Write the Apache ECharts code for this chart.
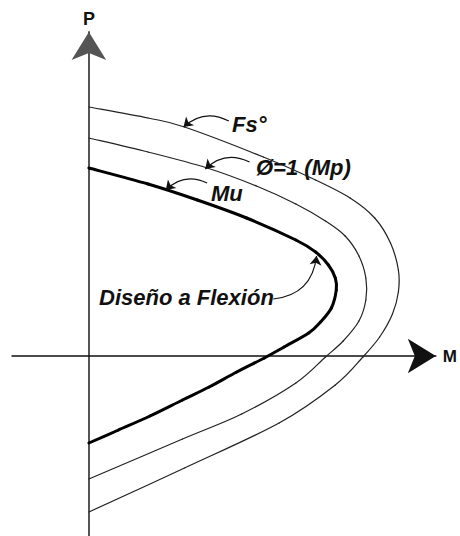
<!DOCTYPE html>
<html>
<head>
<meta charset="utf-8">
<script src="https://cdn.jsdelivr.net/npm/echarts@6.0.0/dist/echarts.min.js"></script>
<style>
  html, body { margin: 0; padding: 0; background: #fff; }
  #chart { width: 460px; height: 536px; }
</style>
</head>
<body>
<div id="chart"></div>
<script>
// curvas del diagrama de interaccion, puntos [M, P]
var fsCurve = [
    [0, 249], [60, 238], [97, 229], [177, 199], [230, 176], [265, 158],
    [290, 138], [306, 113], [314, 86], [314, 64], [308, 42], [295, 19],
    [278, -1], [250, -29], [193, -67], [97, -112], [0, -156]
];
var mpCurve = [
    [0, 218], [60, 204], [120, 188], [170, 170], [210, 152], [240, 135],
    [260, 120], [274, 100], [281, 78], [281, 56], [274, 35], [258, 15],
    [240, -1], [210, -27], [155, -58], [95, -83], [0, -123]
];
var muCurve = [
    [0, 188], [60, 172], [110, 156], [160, 138], [210, 116], [230, 104],
    [243, 91], [250, 78], [251, 66], [246, 48], [235, 34], [223, 23],
    [198, 9], [178, -2], [150, -16], [122, -31], [95, -44], [62, -60],
    [30, -74], [0, -87]
];

// flechas de las etiquetas (inicio -> punta)
var leaders = [
    [[142, 235], [96, 229]],
    [[163, 194], [118, 187]],
    [[120, 173], [78, 166]],
    [[187, 57], [231, 100]]
];
var leaderCurve = [-0.35, -0.35, -0.35, -0.4];

var labelFont = 'italic bold 22px "Liberation Sans", Arial, sans-serif';

// curva suave (catmull-rom) dibujada tramo a tramo con api.coord
function curveSeries(name, pts, color, width) {
    var n = pts.length;
    return {
        name: name,
        type: 'custom',
        data: pts,
        encode: { x: 0, y: 1 },
        renderItem: function (params, api) {
            var i = params.dataIndex;
            if (i === 0) return { type: 'group', children: [] };
            var p0 = api.coord(pts[Math.max(i - 2, 0)]);
            var p1 = api.coord(pts[i - 1]);
            var p2 = api.coord(pts[i]);
            var p3 = api.coord(pts[Math.min(i + 1, n - 1)]);
            return {
                type: 'bezierCurve',
                shape: {
                    x1: p1[0], y1: p1[1],
                    x2: p2[0], y2: p2[1],
                    cpx1: p1[0] + (p2[0] - p0[0]) / 6,
                    cpy1: p1[1] + (p2[1] - p0[1]) / 6,
                    cpx2: p2[0] - (p3[0] - p1[0]) / 6,
                    cpy2: p2[1] - (p3[1] - p1[1]) / 6
                },
                style: { stroke: color, lineWidth: width, fill: null, lineCap: 'round' }
            };
        }
    };
}

var myChart = echarts.init(document.getElementById('chart'), null, { renderer: 'svg' });

var option = {
    animation: false,
    backgroundColor: '#fff',
    grid: { left: 12, right: 18, top: 32, bottom: 0 },
    xAxis: {
        type: 'value',
        min: -78,
        max: 352,
        name: 'M',
        nameLocation: 'end',
        nameGap: 7,
        nameTextStyle: { fontFamily: 'Liberation Sans', fontWeight: 'bold', fontSize: 17, color: '#111' },
        axisLine: {
            onZero: true,
            symbol: ['none', 'arrow'],
            symbolSize: [26, 28],
            lineStyle: { color: '#111', width: 1.5 }
        },
        axisTick: { show: false },
        axisLabel: { show: false },
        splitLine: { show: false }
    },
    yAxis: {
        type: 'value',
        min: -180,
        max: 324,
        name: 'P',
        nameLocation: 'end',
        nameGap: 4,
        nameTextStyle: { fontFamily: 'Liberation Sans', fontWeight: 'bold', fontSize: 18, color: '#111' },
        axisLine: {
            onZero: true,
            symbol: ['none', 'arrow'],
            symbolSize: [26, 28],
            lineStyle: { color: '#555', width: 2 }
        },
        axisTick: { show: false },
        axisLabel: { show: false },
        splitLine: { show: false }
    },
    series: [
        curveSeries('Fs', fsCurve, '#222', 1.2),
        curveSeries('Mp', mpCurve, '#222', 1.2),
        curveSeries('Mu', muCurve, '#000', 3),
        {
            type: 'lines',
            coordinateSystem: 'cartesian2d',
            symbol: ['none', 'arrow'],
            symbolSize: 9,
            lineStyle: { color: '#111', width: 1.2, opacity: 1 },
            data: leaders.map(function (c, i) {
                return { coords: c, lineStyle: { curveness: leaderCurve[i] } };
            })
        }
    ],
    graphic: [
        { type: 'text', left: 232, top: 113, style: { text: 'Fs°', font: labelFont, fill: '#111' } },
        { type: 'text', left: 256, top: 156, style: { text: 'Ø=1 (Mp)', font: labelFont, fill: '#111' } },
        { type: 'text', left: 211, top: 182, style: { text: 'Mu', font: labelFont, fill: '#111' } },
        { type: 'text', left: 99, top: 286, style: { text: 'Diseño a Flexión', font: labelFont, fill: '#111' } }
    ]
};

myChart.setOption(option);
</script>
</body>
</html>
